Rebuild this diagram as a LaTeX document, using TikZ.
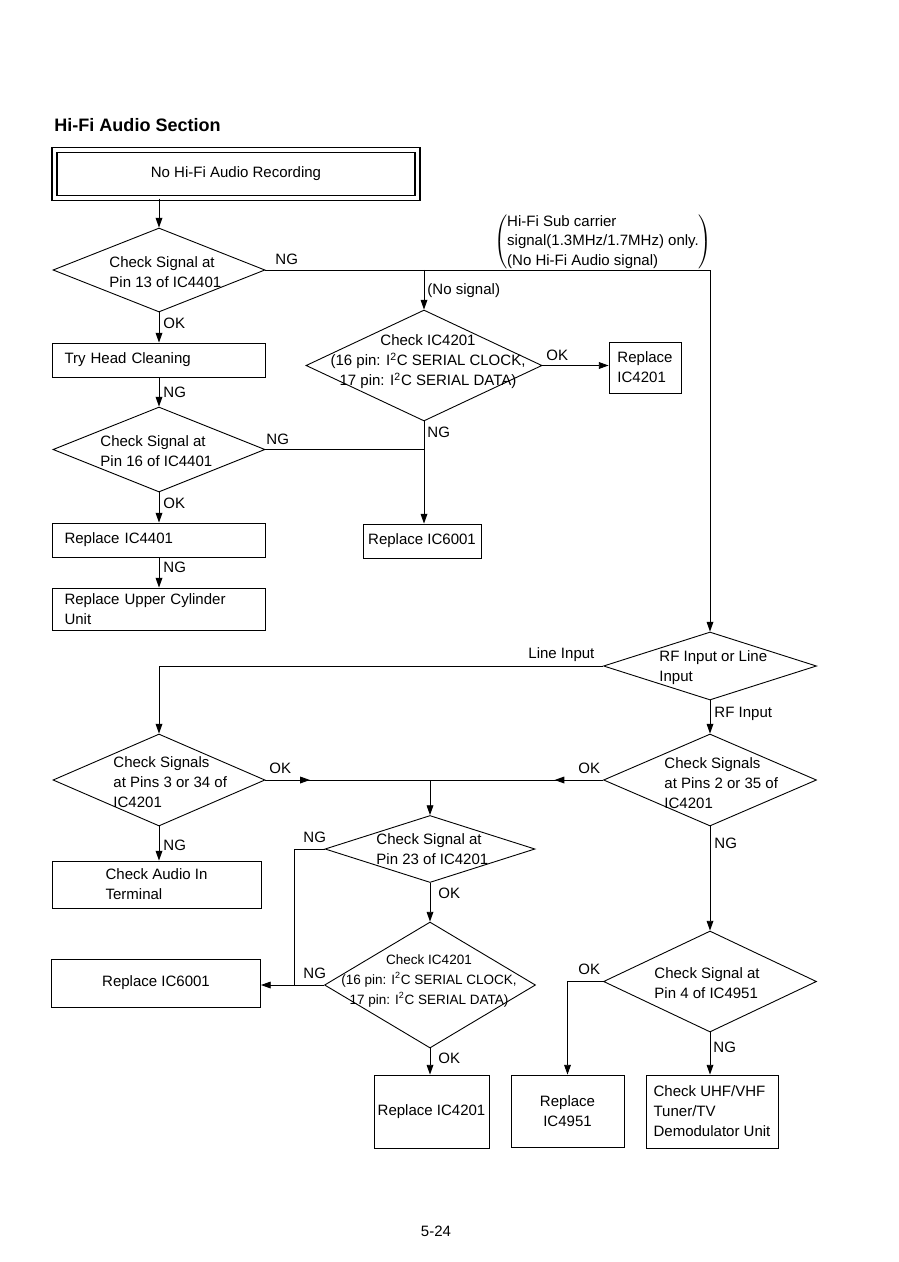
\documentclass[tikz,border=0pt]{standalone}
\usepackage{fontspec}
\setmainfont{Liberation Sans}
\usetikzlibrary{shapes.geometric,arrows.meta,decorations.markings}
\newcommand{\pxl}{0.0234cm}
\newcommand{\flowfont}{\fontsize{10}{13.3}\selectfont}

\begin{document}
\begin{tikzpicture}[
    x=\pxl, y=-\pxl,
    line width=0.6pt,
    font=\flowfont,
    decision/.style 2 args={diamond, draw, inner sep=0pt, minimum width=#1*\pxl, minimum height=#2*\pxl},
    box/.style 2 args={draw, align=left, inner sep=0pt, minimum width=#1*\pxl, minimum height=#2*\pxl},
    lbox/.style={draw, align=left, minimum width=213*\pxl, minimum height=#1*\pxl, text width=189*\pxl, inner xsep=12*\pxl, inner ysep=0pt},
    txt/.style={align=left, inner sep=0pt, anchor=west},
    tag/.style={inner sep=0pt, anchor=west},
    arrow/.style={-{Triangle[length=6.5pt, width=4.5pt]}},
    midtip/.style={postaction={decorate}, decoration={markings, mark=at position #1 with {\arrow{Triangle[length=6.5pt, width=4.5pt]}}}}
]
\useasboundingbox (0,0) rectangle (899,1262);

\node[txt, font=\fontsize{12}{14}\selectfont\bfseries] (title) at (54,125.5) {Hi-Fi Audio Section};
\node[box={363}{48}, line width=0.75pt, double, double distance=2.6pt] (start) at (236,174) {No Hi-Fi Audio Recording};

% decisions
\node[decision={212}{84}] (sig13) at (159,270) {};
\node[decision={236}{111}] (ic4201a) at (424,365.5) {};
\node[decision={212}{85}] (sig16) at (159,449.5) {};
\node[decision={213}{68}] (rfline) at (710,666) {};
\node[decision={212}{92}] (pins34) at (159,780) {};
\node[decision={213}{92}] (pins35) at (710,780) {};
\node[decision={210}{67}] (sig23) at (430,849) {};
\node[decision={211}{126}] (ic4201b) at (430,985) {};
\node[decision={213}{101}] (sig4951) at (710,981.5) {};

\node[txt] (sig13t) at (109,272) {Check Signal at\\Pin 13 of IC4401};
\node[txt, anchor=center, align=center] (ic4201at) at (428,362) {Check IC4201\\(16 pin: I\textsuperscript{2}C SERIAL CLOCK,\\17 pin: I\textsuperscript{2}C SERIAL DATA)};
\node[txt] (sig16t) at (100,451.5) {Check Signal at\\Pin 16 of IC4401};
\node[txt] (rflinet) at (659,668) {RF Input or Line\\Input};
\node[txt] (pins34t) at (113,782) {Check Signals\\at Pins 3 or 34 of\\IC4201};
\node[txt] (pins35t) at (664,783) {Check Signals\\at Pins 2 or 35 of\\IC4201};
\node[txt] (sig23t) at (376,849) {Check Signal at\\Pin 23 of IC4201};
\node[txt, anchor=center, align=center, font=\fontsize{9}{13}\selectfont] (ic4201bt) at (429,981) {Check IC4201\\(16 pin: I\textsuperscript{2}C SERIAL CLOCK,\\17 pin: I\textsuperscript{2}C SERIAL DATA)};
\node[txt] (sig4951t) at (654,983) {Check Signal at\\Pin 4 of IC4951};

% boxes
\node[lbox=34] (headclean) at (159,360) {Try Head Cleaning};
\node[lbox=34] (repl4401) at (159,540) {Replace IC4401};
\node[lbox=42] (cylinder) at (159,609) {Replace Upper Cylinder\\Unit};
\node[box={72}{51}] (repl4201a) at (645,367.5) {Replace\\IC4201};
\node[box={118}{34}] (repl6001a) at (422,541) {Replace IC6001};
\node[box={209}{47}] (audioin) at (156.5,884.5) {Check Audio In\\Terminal};
\node[box={209}{48}] (repl6001b) at (156,983) {Replace IC6001};
\node[box={115}{73}] (repl4201b) at (431.5,1111.5) {Replace IC4201};
\node[box={113}{72}, align=center] (repl4951) at (567.5,1111) {Replace\\IC4951};
\node[box={132}{73}] (uhfvhf) at (712,1111.5) {Check UHF/VHF\\Tuner/TV\\Demodulator Unit};

\node[inner sep=0pt] (subnote) at (603,242) {$\left(\begin{tabular}{@{}l@{}}Hi-Fi Sub carrier\\ signal(1.3MHz/1.7MHz) only.\\ (No Hi-Fi Audio signal)\end{tabular}\right)$};

\draw[arrow] (sig13.north |- start.south) -- (sig13.north);
\draw[arrow] (sig13.east) -| (rfline.north);
\draw[arrow] (ic4201a.north |- sig13.east) -- (ic4201a.north);
\draw[arrow] (ic4201a.east) -- (ic4201a.east -| repl4201a.west);
\draw[arrow] (ic4201a.south) -- (ic4201a.south |- repl6001a.north);
\draw (sig16.east) -- (sig16.east -| ic4201a.south);
\draw[arrow] (sig13.south) -- (headclean.north);
\draw[arrow] (headclean.south) -- (sig16.north);
\draw[arrow] (sig16.south) -- (repl4401.north);
\draw[arrow] (repl4401.south) -- (cylinder.north);
\draw[arrow] (rfline.west) -| (pins34.north);
\draw[arrow] (rfline.south) -- (pins35.north);
\coordinate (okjoin) at (sig23.north |- pins34.east);
\draw[midtip=0.27] (pins34.east) -- (okjoin);
\draw[midtip=0.28] (pins35.west) -- (okjoin);
\draw[arrow] (okjoin) -- (sig23.north);
\draw[arrow] (pins34.south) -- (pins34.south |- audioin.north);
\coordinate (ngjoin) at (294,985);
\draw (sig23.west) -| (ngjoin);
\draw[arrow] (sig23.south) -- (ic4201b.north);
\draw[arrow] (ic4201b.west) -- (ic4201b.west -| repl6001b.east);
\draw[arrow] (ic4201b.south) -- (ic4201b.south |- repl4201b.north);
\draw[arrow] (pins35.south) -- (sig4951.north);
\draw[arrow] (sig4951.west) -| (repl4951.north);
\draw[arrow] (sig4951.south) -- (sig4951.south |- uhfvhf.north);

% labels
\node[tag] (ng1) at (275,259) {NG};
\node[tag] (nosig) at (427,291) {(No signal)};
\node[tag] (ok1) at (163,323) {OK};
\node[tag] (ng2) at (163,392) {NG};
\node[tag] (ok2) at (546,355) {OK};
\node[tag] (ng3) at (266,439) {NG};
\node[tag] (ng4) at (427,432) {NG};
\node[tag] (ok3) at (163,503) {OK};
\node[tag] (ng5) at (163,567) {NG};
\node[tag] (linein) at (528,655) {Line Input};
\node[tag] (rfin) at (714,714) {RF Input};
\node[tag] (ok4) at (269,768) {OK};
\node[tag] (ok5) at (578,768) {OK};
\node[tag] (ng6) at (163,845) {NG};
\node[tag] (ng7) at (714,843) {NG};
\node[tag] (ng8) at (303,837) {NG};
\node[tag] (ok6) at (438,893) {OK};
\node[tag] (ok7) at (578,969) {OK};
\node[tag] (ng9) at (303,973) {NG};
\node[tag] (ok8) at (438,1058) {OK};
\node[tag] (ng10) at (713,1047) {NG};

\node[inner sep=0pt] (pageno) at (436,1231) {5-24};
\end{tikzpicture}
\end{document}
